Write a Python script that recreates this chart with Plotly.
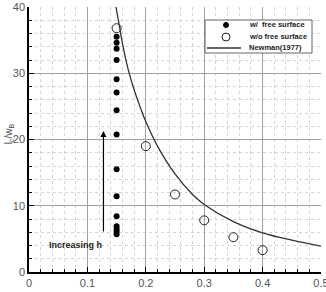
import plotly.graph_objects as go

# Data
sigma_free = [0.15] * 15
lc_free = [35.5, 34.6, 33.7, 32.0, 29.1, 27.1, 24.4, 20.75, 15.5, 11.45, 8.4, 6.9, 6.5, 6.1, 5.7]

sigma_nofree = [0.15, 0.20, 0.25, 0.30, 0.35, 0.40]
lc_nofree = [36.8, 19.0, 11.7, 7.8, 5.25, 3.3]

sigma_newman = [0.149, 0.155, 0.16, 0.17, 0.18, 0.19, 0.20, 0.22, 0.25, 0.28, 0.30, 0.35, 0.40, 0.45, 0.50]
lc_newman = [40.0, 37.0, 34.5, 30.5, 27.5, 25.0, 22.7, 19.0, 14.8, 11.7, 10.2, 7.6, 5.9, 4.8, 3.9]

x_ticks = [0, 0.1, 0.2, 0.3, 0.4, 0.5]
x_ticklabels = ["0", "0.1", "0.2", "0.3", "0.4", "0.5"]
y_ticks = [0, 10, 20, 30, 40]
y_ticklabels = ["0", "10", "20", "30", "40"]

legend_labels = ["w/  free surface", "w/o free surface", "Newman(1977)"]

FONT = "Liberation Sans, Arial, sans-serif"

fig = go.Figure()
fig.add_trace(go.Scatter(
    x=sigma_free, y=lc_free, mode="markers", name=legend_labels[0],
    marker=dict(symbol="circle", size=6, color="black"), showlegend=False,
))
fig.add_trace(go.Scatter(
    x=sigma_nofree, y=lc_nofree, mode="markers", name=legend_labels[1],
    marker=dict(symbol="circle-open", size=9, color="#222", line=dict(width=1)), showlegend=False,
))
fig.add_trace(go.Scatter(
    x=sigma_newman, y=lc_newman, mode="lines", name=legend_labels[2],
    line=dict(color="#333", width=1.3, shape="spline"), showlegend=False,
))

axis_common = dict(
    showline=True, linecolor="black", linewidth=1.5,
    ticks="inside", ticklen=5, tickcolor="black", tickwidth=1,
    showgrid=True, gridcolor="#a0a0a0", gridwidth=1,
    zeroline=False, ticklabeloverflow="allow", automargin=False,
    tickfont=dict(family=FONT, size=11, color="#555"),
)

fig.update_xaxes(
    range=[0, 0.5], tickvals=x_ticks, ticktext=x_ticklabels,
    minor=dict(dtick=0.02, ticks="inside", ticklen=3, tickcolor="black",
               showgrid=True, gridcolor="#d4d4d4", griddash="dot", gridwidth=1),
    **axis_common,
)
fig.update_yaxes(
    range=[0, 40], tickvals=y_ticks, ticktext=y_ticklabels,
    minor=dict(dtick=2, ticks="inside", ticklen=3, tickcolor="black",
               showgrid=True, gridcolor="#d4d4d4", griddash="dot", gridwidth=1),
    **axis_common,
)

fig.add_annotation(
    x=0.1275, y=21.3, ax=0.1275, ay=5.9, xref="x", yref="y", axref="x", ayref="y",
    showarrow=True, arrowhead=2, arrowsize=1, arrowwidth=1.2, arrowcolor="black", text="",
)
fig.add_annotation(
    x=0.079, y=4.15, xref="x", yref="y", text="<b>Increasing h</b>", showarrow=False,
    font=dict(family=FONT, size=9, color="#222"),
)
fig.add_annotation(
    x=-0.068, y=0.52, xref="paper", yref="paper", xanchor="center", yanchor="middle",
    text="l<sub>c</sub>/w<sub>B</sub>",
    textangle=-90, showarrow=False, font=dict(family=FONT, size=10, color="#444"),
)
fig.add_annotation(
    x=0.5, y=-0.055, xref="paper", yref="paper", yanchor="top", text="σ", showarrow=False,
    font=dict(family=FONT, size=11, color="#444"),
)

# Custom legend box (paper coordinates; plot area: x 29..321, y 7..272 px)
def px_x(p):
    return (p - 29) / 292.0

def px_y(p):
    return (272 - p) / 265.0

fig.add_shape(type="rect", xref="paper", yref="paper",
              x0=px_x(205), x1=px_x(312), y0=px_y(53), y1=px_y(20),
              line=dict(color="#666", width=1), fillcolor="white", layer="above")
fig.add_shape(type="circle", xref="paper", yref="paper",
              x0=px_x(223.5), x1=px_x(228.5), y0=px_y(27.5), y1=px_y(22.5),
              line=dict(color="black", width=1), fillcolor="black", layer="above")
fig.add_shape(type="circle", xref="paper", yref="paper",
              x0=px_x(222), x1=px_x(230), y0=px_y(41), y1=px_y(33),
              line=dict(color="#222", width=1), fillcolor="white", layer="above")
fig.add_shape(type="line", xref="paper", yref="paper",
              x0=px_x(207), x1=px_x(241), y0=px_y(48), y1=px_y(48),
              line=dict(color="#333", width=1.3), layer="above")
for lbl, ypx in zip(legend_labels, [25, 36.5, 47.5]):
    fig.add_annotation(
        x=px_x(247), y=px_y(ypx), xref="paper", yref="paper", xanchor="left", yanchor="middle",
        text="<b>" + lbl + "</b>", showarrow=False,
        font=dict(family=FONT, size=7.5, color="#222"),
    )

fig.update_layout(
    width=326, height=292,
    margin=dict(l=29, r=5, t=7, b=20),
    paper_bgcolor="white", plot_bgcolor="white",
    showlegend=False,
)

fig.write_html("out.html")
